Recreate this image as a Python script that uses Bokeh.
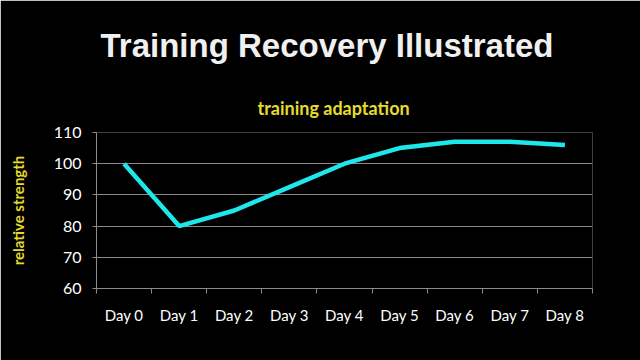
from bokeh.plotting import figure
from bokeh.models import FixedTicker, Range1d, Title
from bokeh.embed import file_html
from bokeh.resources import INLINE
import numpy as np

days = ["Day 0", "Day 1", "Day 2", "Day 3", "Day 4", "Day 5", "Day 6", "Day 7", "Day 8"]
strength = [100, 80, 85, 92.5, 100, 105, 107, 107, 106]
y_ticks = [60, 70, 80, 90, 100, 110]

title_text = "Training Recovery Illustrated"
subtitle_text = "training adaptation"
ylabel_text = "relative strength"

W, H = 640, 360
FL, FR, FT, FB = 96, 48, 132, 72
p = figure(width=W, height=H, output_backend="svg", toolbar_location=None,
           x_range=Range1d(0, len(days)), y_range=Range1d(60, 110),
           min_border_left=FL, min_border_right=FR, min_border_top=FT, min_border_bottom=FB,
           background_fill_color="black", border_fill_color="black")
p.outline_line_color = None

xs = np.arange(len(days)) + 0.5
p.line(xs, strength, line_color="#1ee6ea", line_width=4.5)

grey = "#8a8a8a"
# x axis
p.xaxis.ticker = FixedTicker(ticks=list(xs), minor_ticks=list(range(len(days) + 1)))
p.xaxis.major_label_overrides = {float(x): d for x, d in zip(xs, days)}
p.xaxis.major_tick_line_color = None
p.xaxis.major_tick_out = 0
p.xaxis.major_tick_in = 0
p.xaxis.minor_tick_line_color = grey
p.xaxis.minor_tick_out = 5
p.xaxis.minor_tick_in = 0
p.xaxis.axis_line_color = grey
p.xaxis.major_label_text_color = "white"
p.xaxis.major_label_text_font = "Lato"
p.xaxis.major_label_text_font_size = "15px"
p.xaxis.major_label_standoff = 12

# y axis
p.yaxis.ticker = FixedTicker(ticks=y_ticks)
p.yaxis.minor_tick_line_color = None
p.yaxis.major_tick_line_color = grey
p.yaxis.major_tick_out = 4
p.yaxis.major_tick_in = 0
p.yaxis.axis_line_color = grey
p.yaxis.major_label_text_color = "white"
p.yaxis.major_label_text_font = "Lato"
p.yaxis.major_label_text_font_size = "16px"
p.yaxis.major_label_standoff = 11
p.yaxis.axis_label = ylabel_text
p.yaxis.axis_label_text_color = "#e4dc2c"
p.yaxis.axis_label_text_font = "Lato"
p.yaxis.axis_label_text_font_style = "bold"
p.yaxis.axis_label_text_font_size = "15px"
p.yaxis.axis_label_standoff = 24

p.xgrid.grid_line_color = None
p.ygrid.grid_line_color = grey
p.ygrid.grid_line_width = 1

# titles stacked above the frame (first added is nearest the frame)
p.add_layout(Title(text=subtitle_text, align="left", offset=161, vertical_align="middle",
                   standoff=25, text_color="#e4dc2c", text_font="Lato",
                   text_font_style="bold", text_font_size="18px"), "above")
p.add_layout(Title(text=title_text, align="left", offset=4, vertical_align="middle",
                   standoff=38, text_color="#f0f0f0", text_font="Liberation Sans",
                   text_font_style="bold", text_font_size="33px"), "above")

open("out.html", "w").write(file_html(p, INLINE))
